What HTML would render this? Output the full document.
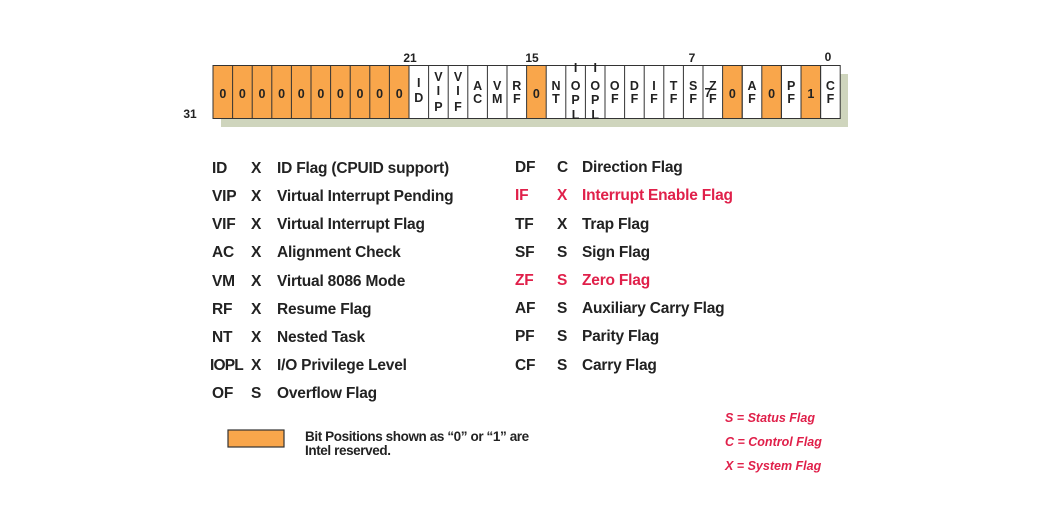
<!DOCTYPE html>
<html><head><meta charset="utf-8"><style>
html,body{margin:0;padding:0;background:#fff;}
svg{display:block;}
text{font-family:"Liberation Sans",Arial,sans-serif;font-weight:bold;}
.c{font-size:12.5px;text-anchor:middle;fill:#222;}
.l{font-size:15.5px;fill:#222;letter-spacing:-0.2px;}
.r{fill:#e0204a;}
.k{font-size:12.5px;fill:#e0204a;font-style:italic;}
</style></head><body>
<svg width="1053" height="518" viewBox="0 0 1053 518" xmlns="http://www.w3.org/2000/svg">
<rect x="221" y="74" width="627" height="53" fill="#cfd5bd"/>
<g stroke="#333" stroke-width="1">
<rect x="213" y="65.5" width="196" height="53" fill="#f9a64b"/>
<rect x="409" y="65.5" width="431.2" height="53" fill="#fff"/>
<rect x="526.6" y="65.5" width="19.6" height="53" fill="#f9a64b"/>
<rect x="722.6" y="65.5" width="19.6" height="53" fill="#f9a64b"/>
<rect x="761.8" y="65.5" width="19.6" height="53" fill="#f9a64b"/>
<rect x="801" y="65.5" width="19.6" height="53" fill="#f9a64b"/>
<path d="M232.6 65.5V118.5M252.2 65.5V118.5M271.8 65.5V118.5M291.4 65.5V118.5M311 65.5V118.5M330.6 65.5V118.5M350.2 65.5V118.5M369.8 65.5V118.5M389.4 65.5V118.5M428.6 65.5V118.5M448.2 65.5V118.5M467.8 65.5V118.5M487.4 65.5V118.5M507 65.5V118.5M565.8 65.5V118.5M585.4 65.5V118.5M605 65.5V118.5M624.6 65.5V118.5M644.2 65.5V118.5M663.8 65.5V118.5M683.4 65.5V118.5M703 65.5V118.5M781.4 65.5V118.5M820.6 65.5V118.5M742.2 65.5V118.5"/>
</g>
<g class="c">
<text x="222.8" y="98">0</text><text x="242.4" y="98">0</text><text x="262" y="98">0</text><text x="281.6" y="98">0</text><text x="301.2" y="98">0</text><text x="320.8" y="98">0</text><text x="340.4" y="98">0</text><text x="360" y="98">0</text><text x="379.6" y="98">0</text><text x="399.2" y="98">0</text>
<text x="418.8" y="87">I</text><text x="418.8" y="102">D</text>
<text x="438.4" y="81">V</text><text x="438.4" y="95">I</text><text x="438.4" y="111">P</text>
<text x="458" y="81">V</text><text x="458" y="95">I</text><text x="458" y="111">F</text>
<text x="477.6" y="90">A</text><text x="477.6" y="103">C</text>
<text x="497.2" y="90">V</text><text x="497.2" y="103">M</text>
<text x="516.8" y="90">R</text><text x="516.8" y="103">F</text>
<text x="536.4" y="98">0</text>
<text x="556" y="90">N</text><text x="556" y="103">T</text>
<text x="575.6" y="72">I</text><text x="575.6" y="90">O</text><text x="575.6" y="104">P</text><text x="575.6" y="119">L</text>
<text x="595.2" y="72">I</text><text x="595.2" y="90">O</text><text x="595.2" y="104">P</text><text x="595.2" y="119">L</text>
<text x="614.8" y="90">O</text><text x="614.8" y="103">F</text>
<text x="634.4" y="90">D</text><text x="634.4" y="103">F</text>
<text x="654" y="90">I</text><text x="654" y="103">F</text>
<text x="673.6" y="90">T</text><text x="673.6" y="103">F</text>
<text x="693.2" y="90">S</text><text x="693.2" y="103">F</text>
<text x="712.8" y="90">Z</text><text x="712.8" y="103">F</text><text x="708" y="97">7</text>
<text x="732.4" y="98">0</text>
<text x="752" y="90">A</text><text x="752" y="103">F</text>
<text x="771.6" y="98">0</text>
<text x="791.2" y="90">P</text><text x="791.2" y="103">F</text>
<text x="810.8" y="98">1</text>
<text x="830.4" y="90">C</text><text x="830.4" y="103">F</text>
</g>
<g class="c" style="font-size:12px">
<text x="190" y="118">31</text><text x="410" y="62">21</text><text x="532" y="62">15</text><text x="692" y="62">7</text><text x="828" y="61">0</text>
</g>
<g class="l">
<text x="212" y="173">ID</text><text x="251" y="173">X</text><text x="277" y="173">ID Flag (CPUID support)</text>
<text x="212" y="201">VIP</text><text x="251" y="201">X</text><text x="277" y="201">Virtual Interrupt Pending</text>
<text x="212" y="229">VIF</text><text x="251" y="229">X</text><text x="277" y="229">Virtual Interrupt Flag</text>
<text x="212" y="257">AC</text><text x="251" y="257">X</text><text x="277" y="257">Alignment Check</text>
<text x="212" y="286">VM</text><text x="251" y="286">X</text><text x="277" y="286">Virtual 8086 Mode</text>
<text x="212" y="314">RF</text><text x="251" y="314">X</text><text x="277" y="314">Resume Flag</text>
<text x="212" y="342">NT</text><text x="251" y="342">X</text><text x="277" y="342">Nested Task</text>
<text x="210" y="370" style="letter-spacing:-0.8px">IOPL</text><text x="251" y="370">X</text><text x="277" y="370">I/O Privilege Level</text>
<text x="212" y="398">OF</text><text x="251" y="398">S</text><text x="277" y="398">Overflow Flag</text>
<text x="515" y="172">DF</text><text x="557" y="172">C</text><text x="582" y="172">Direction Flag</text>
<text x="515" y="200" class="r">IF</text><text x="557" y="200" class="r">X</text><text x="582" y="200" class="r">Interrupt Enable Flag</text>
<text x="515" y="229">TF</text><text x="557" y="229">X</text><text x="582" y="229">Trap Flag</text>
<text x="515" y="257">SF</text><text x="557" y="257">S</text><text x="582" y="257">Sign Flag</text>
<text x="515" y="285" class="r">ZF</text><text x="557" y="285" class="r">S</text><text x="582" y="285" class="r">Zero Flag</text>
<text x="515" y="313">AF</text><text x="557" y="313">S</text><text x="582" y="313">Auxiliary Carry Flag</text>
<text x="515" y="341">PF</text><text x="557" y="341">S</text><text x="582" y="341">Parity Flag</text>
<text x="515" y="370">CF</text><text x="557" y="370">S</text><text x="582" y="370">Carry Flag</text>
</g>
<rect x="228" y="430" width="56" height="17" fill="#f9a64b" stroke="#333" stroke-width="1.2"/>
<g style="font-size:13.5px;fill:#222" class="l">
<text x="305" y="441" style="letter-spacing:-0.4px">Bit Positions shown as “0” or “1” are</text>
<text x="305" y="455" style="letter-spacing:-0.4px">Intel reserved.</text>
</g>
<text x="725" y="422" class="k">S = Status Flag</text>
<text x="725" y="446" class="k">C = Control Flag</text>
<text x="725" y="470" class="k">X = System Flag</text>
</svg>
</body></html>
